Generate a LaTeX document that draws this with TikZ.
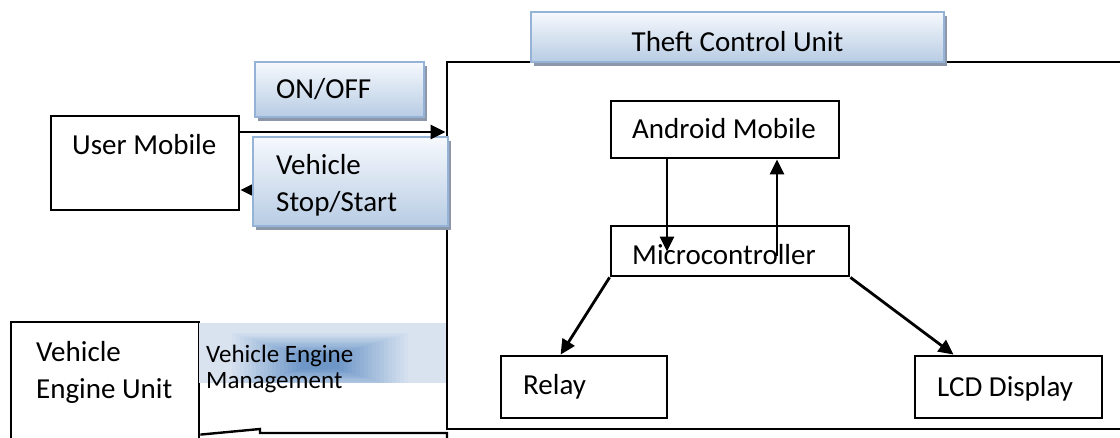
\documentclass[tikz,border=0pt]{standalone}
\usepackage{fontspec}
\setmainfont{Carlito}
\usetikzlibrary{arrows.meta,shadows,calc}
\definecolor{frameblue}{RGB}{149,179,215}
\definecolor{fadetop}{RGB}{246,249,253}
\definecolor{fadebot}{RGB}{184,204,228}
\definecolor{shadowc}{RGB}{140,152,170}
\definecolor{glowlight}{RGB}{217,227,240}
\definecolor{glowblue}{RGB}{74,126,187}

\begin{document}
\begin{tikzpicture}[x=1pt,y=-1pt,
  font=\fontsize{29}{37}\selectfont,
  sz/.style 2 args={minimum width=#1, minimum height=#2},
  blk/.style={draw=black, line width=2.8pt, inner sep=0pt, fill=white},
  tag/.style={draw=frameblue, line width=2.2pt, inner sep=0pt,
    top color=fadetop, bottom color=fadebot,
    drop shadow={shadow xshift=3pt, shadow yshift=-4pt, fill=shadowc, opacity=1}},
  lbl/.style={anchor=base west, inner sep=0pt, align=left},
  conn/.style={line width=2.8pt, -{Triangle[length=15pt,width=14pt]}},
]
\useasboundingbox (0,0) rectangle (1120,438);

% enclosing frame of the theft control unit
\node (tcu) [blk, sz={693pt}{367pt}] at (793.5,245.5) {};

% vehicle engine unit with its callout tail
\node (veu) [blk, sz={188pt}{128pt}] at (105,386) {};
\coordinate (t1) at (260,429);
\coordinate (t2) at (260,433);
\coordinate (t3) at (447,433);
\coordinate (t4) at (447,445);
\draw[line width=2.4pt] ($(veu.north east)+(0,114)$) -- (t1) -- (t2) -- (t3) -- (t4);

% engine management panel with soft blue glow
\begin{scope}
  \clip (199,323) rectangle (446,383);
  \fill[glowlight] (199,323) rectangle (446,383);
  \foreach \i in {1,...,18}{
    \pgfmathsetmacro{\hw}{92-4.0*\i}
    \pgfmathsetmacro{\hh}{30-1.25*\i}
    \pgfmathtruncatemacro{\p}{4.2*\i}
    \fill[glowblue!\p!glowlight] (320-\hw,362-\hh) rectangle (320+\hw,362+\hh);
  }
\end{scope}

% user mobile and the signal tags
\node (title) [tag, sz={413pt}{50pt}] at (737.5,37) {};
\node (on) [tag, sz={169pt}{55pt}] at (339.5,89.5) {};
\node (um) [blk, sz={188pt}{94pt}] at (145,163) {};
\coordinate (onY) at (0,132);
\coordinate (ssY) at (0,190);
\draw[conn] (tcu.west |- ssY) -- (um.east |- ssY);
\node (ss) [tag, sz={195pt}{89pt}] at (350.5,181.5) {};
\draw[conn] (um.east |- onY) -- (tcu.west |- onY);

% inner blocks
\node (am) [blk, sz={228pt}{57pt}] at (725,129.5) {};
\node (mc) [blk, sz={238pt}{50pt}] at (730,251) {};
\node (rl) [blk, sz={166pt}{62pt}] at (584,387) {};
\node (lcd) [blk, sz={187pt}{62pt}] at (1008.5,387) {};

\coordinate (dx) at (667,0);
\coordinate (ux) at (777,0);
\draw[conn] (am.south -| dx) -- ($(mc.north -| dx)+(0,27)$);
\draw[conn] ($(mc.north -| ux)+(0,31)$) -- (am.south -| ux);
\draw[conn] (mc.south west) -- ($(rl.north west)+(61,0)$);
\draw[conn] (mc.south east) -- ($(lcd.north west)+(40,0)$);

% labels (multi-line labels are anchored at their last baseline)
\node (titleT) [anchor=base, inner sep=0pt] at (737.5,52) {Theft Control Unit};
\node (onT) [lbl] at (276,99) {ON/OFF};
\node (umT) [lbl] at (72,155) {User Mobile};
\node (ssT) [lbl] at (276,212) {Vehicle\\Stop/Start};
\node (amT) [lbl] at (632,139) {Android Mobile};
\node (mcT) [lbl] at (632,265) {Microcontroller};
\node (rlT) [lbl] at (523,395) {Relay};
\node (lcdT) [lbl] at (937,397) {LCD Display};
\node (veuT) [lbl] at (36,399) {Vehicle\\Engine Unit};
\node (vemT) [lbl, font=\fontsize{25}{26}\selectfont] at (206,389) {Vehicle Engine\\Management};
\end{tikzpicture}
\end{document}
